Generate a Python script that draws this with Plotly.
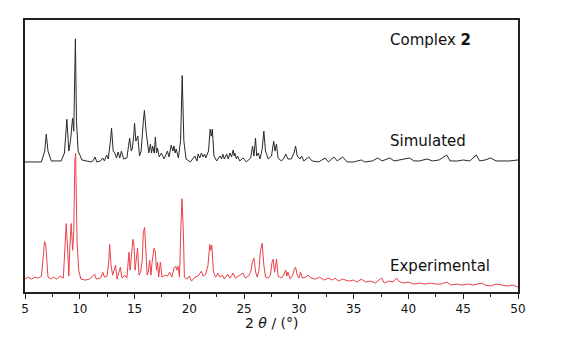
import plotly.graph_objects as go

# Simulated pattern (2θ in degrees, intensity in a.u., relative to its own baseline)
sim_2theta = [5.0, 6.5, 6.8, 6.94, 7.1, 7.4, 8.3, 8.6, 8.82, 9.0, 9.15, 9.34, 9.45, 9.6, 9.7, 9.85,
              10.2, 11.0, 11.2, 11.4, 11.55, 11.9, 12.1, 12.25, 12.45, 12.6, 12.8, 12.9, 13.05, 13.2,
              13.35, 13.5, 13.65, 13.8, 14.0, 14.3, 14.45, 14.55, 14.7, 14.8, 14.92, 15.0, 15.12, 15.3,
              15.45, 15.6, 15.8, 15.9, 16.05, 16.15, 16.3, 16.45, 16.55, 16.65, 16.8, 16.9, 17.0, 17.1,
              17.25, 17.45, 17.7, 18.0, 18.15, 18.35, 18.5, 18.6, 18.7, 18.8, 19.0, 19.2, 19.35, 19.5,
              19.7, 20.1, 20.5, 20.7, 20.8, 20.95, 21.1, 21.25, 21.4, 21.5, 21.6, 21.75, 21.9, 22.0,
              22.1, 22.25, 22.5, 22.8, 22.95, 23.05, 23.2, 23.4, 23.55, 23.7, 23.85, 24.0, 24.1, 24.15,
              24.3, 24.4, 24.6, 24.9, 25.2, 25.6, 25.77, 25.9, 26.04, 26.15, 26.3, 26.45, 26.65, 26.8,
              26.95, 27.2, 27.5, 27.7, 27.82, 27.95, 28.1, 28.4, 28.65, 28.8, 29.0, 29.3, 29.55, 29.7,
              29.85, 30.1, 30.25, 30.45, 30.9, 31.2, 31.8, 32.4, 32.7, 33.2, 33.5, 34.0, 34.4, 35.0,
              35.7, 36.0, 36.7, 37.2, 37.6, 38.3, 38.7, 39.2, 40.1, 40.5, 41.0, 41.7, 42.2, 42.8, 43.5,
              43.8, 44.5, 45.0, 45.6, 46.2, 46.5, 47.0, 47.5, 48.0, 48.6, 49.2, 50.0]
sim_intensity = [0, 0, 11, 28, 11, 1, 1, 9, 43, 11, 21, 44, 31, 124, 41, 11,
                 2, 0, 1, 5, 0, 1, 4, 1, 7, 3, 21, 34, 11, 9,
                 4, 10, 4, 11, 3, 4, 16, 24, 11, 14, 26, 39, 21, 26,
                 6, 11, 41, 52, 31, 21, 9, 18, 9, 16, 9, 25, 9, 14,
                 5, 9, 3, 11, 5, 17, 11, 16, 9, 13, 4, 21, 87, 21,
                 3, 0, 6, 1, 8, 4, 9, 5, 8, 4, 7, 11, 33, 26,
                 33, 6, 1, 6, 3, 8, 3, 8, 3, 9, 5, 12, 6, 9,
                 3, 6, 1, 4, 0, 4, 16, 6, 24, 6, 9, 3, 13, 31,
                 11, 3, 6, 21, 11, 18, 4, 1, 4, 8, 3, 3, 9, 16,
                 6, 3, 6, 1, 5, 1, 0, 4, 0, 5, 1, 5, 0, 0,
                 2, 0, 1, 4, 1, 4, 1, 2, 4, 1, 1, 3, 1, 2, 7,
                 1, 1, 2, 1, 7, 1, 2, 4, 1, 1, 1, 2]

# Experimental pattern
exp_2theta = [5.0, 5.3, 5.6, 5.9, 6.2, 6.5, 6.65, 6.78, 6.9, 7.0, 7.1, 7.4, 7.6, 7.9, 8.2, 8.5,
              8.6, 8.76, 8.9, 9.0, 9.1, 9.22, 9.35, 9.45, 9.55, 9.62, 9.75, 9.9, 10.1, 10.5, 10.9,
              11.2, 11.35, 11.5, 11.9, 12.1, 12.25, 12.5, 12.65, 12.73, 12.85, 13.0, 13.1, 13.27,
              13.4, 13.55, 13.7, 13.85, 14.1, 14.3, 14.4, 14.49, 14.6, 14.72, 14.85, 14.95, 15.05,
              15.15, 15.28, 15.4, 15.55, 15.7, 15.8, 15.92, 16.05, 16.15, 16.25, 16.38, 16.5, 16.6,
              16.78, 16.9, 17.0, 17.1, 17.2, 17.36, 17.5, 17.8, 18.0, 18.2, 18.4, 18.6, 18.76, 18.85,
              18.97, 19.1, 19.25, 19.33, 19.45, 19.55, 19.8, 20.0, 20.2, 20.5, 20.8, 21.0, 21.1,
              21.25, 21.5, 21.7, 21.87, 21.95, 22.05, 22.2, 22.4, 22.6, 22.8, 23.0, 23.2, 23.5, 23.7,
              23.9, 24.0, 24.2, 24.5, 24.7, 24.9, 25.1, 25.4, 25.6, 25.75, 25.9, 26.05, 26.2, 26.35,
              26.5, 26.65, 26.8, 26.95, 27.2, 27.4, 27.55, 27.65, 27.78, 27.96, 28.1, 28.4, 28.6,
              28.8, 28.9, 29.0, 29.2, 29.45, 29.6, 29.7, 29.85, 30.0, 30.15, 30.3, 30.6, 30.85, 31.1,
              31.5, 31.9, 32.3, 32.7, 33.1, 33.3, 33.6, 34.0, 34.5, 35.0, 35.3, 35.7, 36.1, 36.5,
              37.0, 37.3, 37.56, 37.8, 38.2, 38.6, 38.9, 39.1, 39.5, 40.0, 40.5, 41.0, 41.5, 42.0,
              42.5, 43.0, 43.5, 43.9, 44.4, 44.9, 45.4, 45.9, 46.4, 46.7, 47.0, 47.5, 48.0, 48.5,
              49.0, 49.5, 50.0]
exp_intensity = [13, 15, 13, 15, 14, 16, 34, 51, 47, 30, 15, 13, 15, 13, 16, 14,
                 37, 69, 42, 16, 47, 69, 42, 62, 132, 140, 52, 22, 13, 12, 13,
                 16, 18, 13, 14, 20, 15, 16, 32, 48, 27, 17, 22, 27,
                 13, 20, 25, 14, 17, 14, 27, 40, 22, 42, 53, 47, 22,
                 32, 44, 17, 20, 32, 60, 65, 42, 17, 20, 32, 17, 30,
                 44, 40, 22, 30, 15, 30, 15, 17, 16, 20, 15, 24, 26, 22,
                 26, 15, 72, 94, 62, 15, 13, 16, 11, 15, 16, 19, 21,
                 16, 18, 27, 48, 42, 47, 20, 15, 19, 15, 17, 13, 18, 14,
                 17, 19, 14, 16, 18, 19, 14, 16, 20, 30, 34, 20, 15, 22,
                 42, 49, 27, 15, 14, 17, 30, 33, 20, 33, 16, 14, 17,
                 22, 16, 20, 13, 17, 24, 25, 17, 14, 20, 14, 15, 17, 14,
                 13, 15, 12, 14, 12, 14, 11, 13, 11, 12, 10, 13, 10, 11,
                 9, 12, 14, 9, 11, 10, 14, 11, 9, 10, 8, 9, 8, 9,
                 8, 8, 10, 7, 8, 7, 8, 7, 8, 9, 7, 6, 8, 7,
                 6, 7, 5]

sim_offset = 131
x_ticks = [5, 10, 15, 20, 25, 30, 35, 40, 45, 50]

font_family = "DejaVu Sans, Liberation Sans, Arial, sans-serif"

fig = go.Figure()
fig.add_trace(go.Scatter(x=exp_2theta, y=exp_intensity, mode="lines",
                         line=dict(color="rgb(234,64,72)", width=1), name="Experimental",
                         showlegend=False))
fig.add_trace(go.Scatter(x=sim_2theta, y=[v + sim_offset for v in sim_intensity], mode="lines",
                         line=dict(color="rgb(40,40,40)", width=1), name="Simulated",
                         showlegend=False))

fig.add_annotation(x=38.1, y=254, xref="x", yref="y", text="Complex <b>2</b>", showarrow=False,
                   xanchor="left", yanchor="middle", font=dict(size=15, color="#111", family=font_family))
fig.add_annotation(x=38.1, y=152, xref="x", yref="y", text="Simulated", showarrow=False,
                   xanchor="left", yanchor="middle", font=dict(size=15, color="#111", family=font_family))
fig.add_annotation(x=38.1, y=26, xref="x", yref="y", text="Experimental", showarrow=False,
                   xanchor="left", yanchor="middle", font=dict(size=15, color="#111", family=font_family))
fig.add_annotation(x=0.5, y=-0.113, xref="paper", yref="paper", text="2 <i>θ</i> / (°)",
                   showarrow=False, xanchor="center", yanchor="middle",
                   font=dict(size=14, color="#111", family=font_family))

fig.update_layout(
    width=563, height=334,
    margin=dict(l=17, r=53, t=10, b=50),
    paper_bgcolor="white", plot_bgcolor="white",
    font=dict(family=font_family, color="#111"),
    xaxis=dict(range=[5, 50], tickvals=x_ticks, ticks="outside", ticklen=5, tickwidth=1,
               tickcolor="#222", showline=True, linecolor="#222", linewidth=1.5, mirror=True,
               showgrid=False, zeroline=False, tickfont=dict(size=12, color="#111"),
               minor=dict(dtick=2.5, ticks="outside", ticklen=3, tickcolor="#222")),
    yaxis=dict(range=[0, 274], showticklabels=False, ticks="", showline=True, linecolor="#222",
               linewidth=1.5, mirror=True, showgrid=False, zeroline=False),
)

fig.write_html("out.html")
